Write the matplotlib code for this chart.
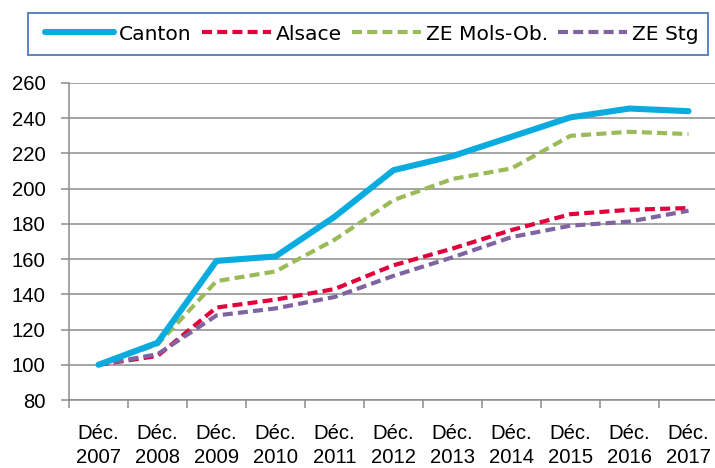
import matplotlib
matplotlib.use("Agg")
import matplotlib.pyplot as plt
from matplotlib.patches import Rectangle
import numpy as np

plt.rcParams['font.family'] = ['Liberation Sans', 'DejaVu Sans']

years = ["2007", "2008", "2009", "2010", "2011", "2012", "2013", "2014", "2015", "2016", "2017"]
labels = ["Déc.\n" + y for y in years]
canton = [100, 112.5, 159, 161.5, 184, 210.5, 218.5, 229.5, 240.5, 245.5, 244]
alsace = [100, 105, 132.5, 137, 143, 156.5, 166, 176.5, 185.5, 188, 189]
ze_mols = [100, 111.5, 147.5, 153, 171, 193.5, 205.5, 211.5, 230, 232.3, 231]
ze_stg = [100, 106, 128, 132, 138.5, 150.5, 161, 172.5, 179, 181.3, 187.5]

W, H = 715, 468
fig = plt.figure(figsize=(W / 100, H / 100), dpi=100)
left, right, top, bottom = 69, 718, 83, 400
ax = fig.add_axes([left / W, (H - bottom) / H, (right - left) / W, (bottom - top) / H])

x = np.arange(len(years))
fs = 14.6
dash = (2.4, 1.25)
ax.plot(x, canton, color='#0AACE0', lw=4.4, solid_capstyle='round', solid_joinstyle='round', label='Canton', zorder=5)
ax.plot(x, alsace, color='#E2003C', lw=3.0, dashes=dash, dash_capstyle='butt', label='Alsace', zorder=4)
ax.plot(x, ze_mols, color='#9BBB59', lw=3.0, dashes=dash, dash_capstyle='butt', label='ZE Mols-Ob.', zorder=3)
ax.plot(x, ze_stg, color='#8064A2', lw=3.0, dashes=dash, dash_capstyle='butt', label='ZE Stg', zorder=4)

ax.set_xlim(-0.5, len(years) - 0.5)
ax.set_ylim(80, 260)
ax.set_yticks(np.arange(80, 261, 20))
ax.yaxis.grid(True, color='#8C8C8C', lw=1.1)
ax.set_axisbelow(True)
ax.set_xticks(x)
ax.set_xticklabels(labels, fontsize=fs, linespacing=1.33)
ax.set_xticks(np.arange(-0.5, len(years), 1.0), minor=True)
ax.tick_params(axis='x', which='major', length=0, pad=17)
ax.tick_params(axis='x', which='minor', length=6, width=1.1, color='#8C8C8C', direction='out')
ax.tick_params(axis='y', length=6, width=1.1, color='#8C8C8C', labelsize=fs, pad=11)
for s in ['top', 'right']:
    ax.spines[s].set_visible(False)
for s in ['left', 'bottom']:
    ax.spines[s].set_color('#8C8C8C')
    ax.spines[s].set_linewidth(1.1)

# legend frame drawn manually (pixel box 28..708 x 13..55)
fig.patches.append(Rectangle((28 / W, 1 - 55 / H), 680 / W, 42 / H, transform=fig.transFigure,
                             fill=True, facecolor='white', edgecolor='#5A82BE', lw=1.4, zorder=10))
leg = fig.legend(loc='center left', bbox_to_anchor=(45 / W, 1 - 34 / H), ncol=4,
                 prop={'family': ['DejaVu Sans'], 'size': fs},
                 frameon=False, handlelength=3.4, handletextpad=0.25,
                 columnspacing=0.5, borderpad=0, borderaxespad=0)
leg.set_zorder(11)

fig.savefig('out.png', dpi=100)
